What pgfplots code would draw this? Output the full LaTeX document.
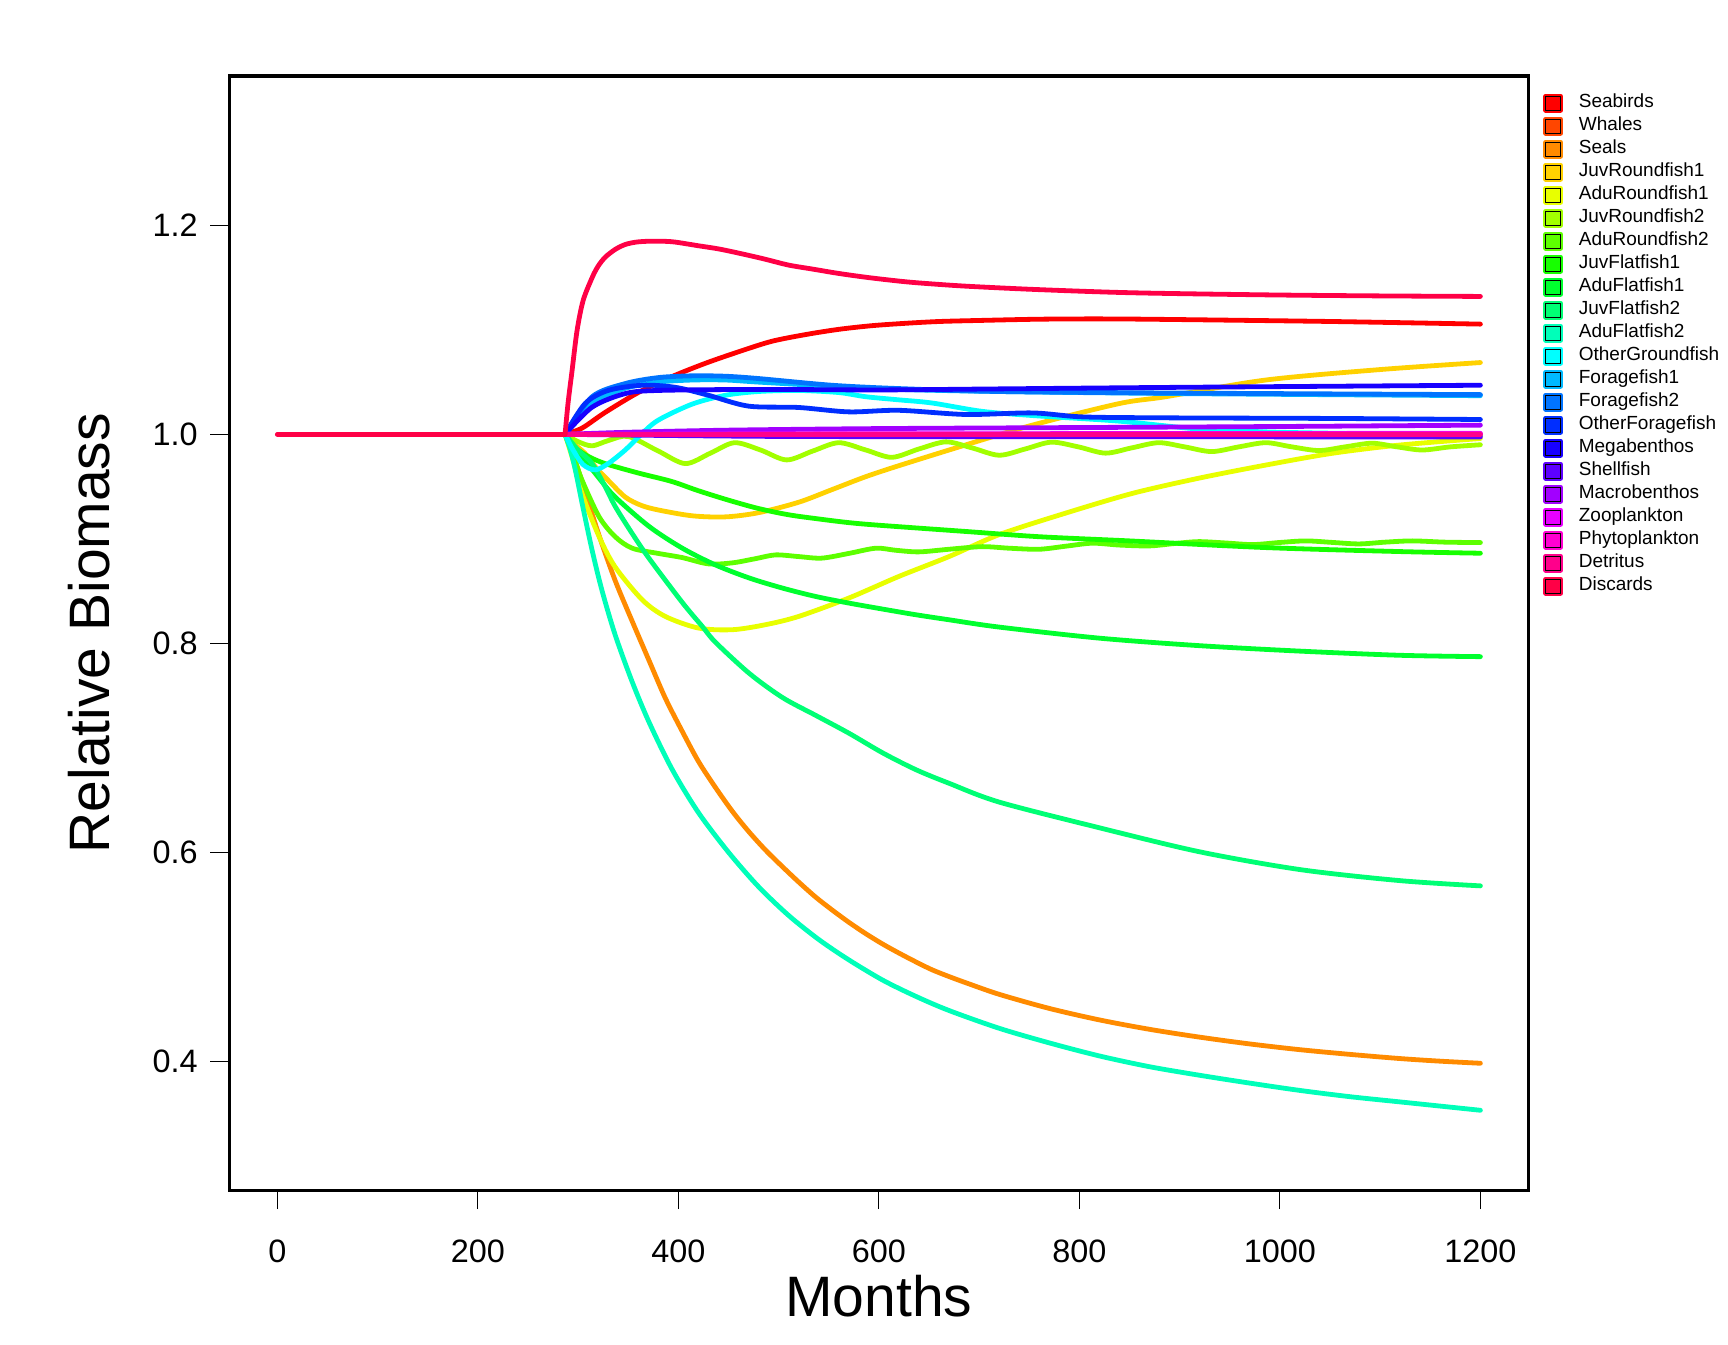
\documentclass[border=0pt]{standalone}
\usepackage{fontspec}
\setmainfont{Liberation Sans}
\usepackage{pgfplots}
\pgfplotsset{compat=1.18}
\definecolor{c01}{HTML}{FF0000}
\definecolor{c02}{HTML}{FF4600}
\definecolor{c03}{HTML}{FF8B00}
\definecolor{c04}{HTML}{FFD100}
\definecolor{c05}{HTML}{E8FF00}
\definecolor{c06}{HTML}{A2FF00}
\definecolor{c07}{HTML}{5DFF00}
\definecolor{c08}{HTML}{17FF00}
\definecolor{c09}{HTML}{00FF2E}
\definecolor{c10}{HTML}{00FF74}
\definecolor{c11}{HTML}{00FFB9}
\definecolor{c12}{HTML}{00FFFF}
\definecolor{c13}{HTML}{00B9FF}
\definecolor{c14}{HTML}{0074FF}
\definecolor{c15}{HTML}{002EFF}
\definecolor{c16}{HTML}{1700FF}
\definecolor{c17}{HTML}{5D00FF}
\definecolor{c18}{HTML}{A200FF}
\definecolor{c19}{HTML}{E800FF}
\definecolor{c20}{HTML}{FF00D1}
\definecolor{c21}{HTML}{FF008B}
\definecolor{c22}{HTML}{FF0046}
\begin{document}
\begin{tikzpicture}
\path[use as bounding box] (0,0) rectangle (864pt,672pt);
\begin{axis}[
  scale only axis, width=649.65pt, height=557.1pt,
  at={(114.6pt,76.9pt)}, anchor=south west,
  xmin=-48, xmax=1248, ymin=0.2765, ymax=1.343,
  axis line style={line width=1.6pt},
  xtick={0,200,400,600,800,1000,1200},
  ytick={0.4,0.6,0.8,1.0,1.2},
  xtick pos=left, ytick pos=left,
  tick align=outside, major tick length=9.4pt,
  tick style={line width=0.55pt, black},
  /pgf/number format/assume math mode=true,
  /pgf/number format/1000 sep={},
  tick label style={font=\fontsize{16.2}{19}\selectfont},
  yticklabel style={/pgf/number format/fixed, /pgf/number format/precision=1, /pgf/number format/fixed zerofill},
  xticklabel shift=11.9pt, yticklabel shift=2.9pt,
  xlabel={Months}, ylabel={Relative Biomass},
  xlabel style={at={(axis description cs:0.5,-0.095)}, anchor=center, font=\fontsize{28.5}{34}\selectfont},
  ylabel style={at={(axis description cs:-0.1077,0.5)}, anchor=center, font=\fontsize{28.5}{34}\selectfont},
  every axis plot/.append style={line width=2.4pt, line cap=round, line join=round, smooth, tension=0.5},
  legend image code/.code={\fill[#1] (0pt,-3.5pt) rectangle (7.5pt,3.5pt); \draw[black,line width=0.5pt] (0pt,-3.5pt) rectangle (7.5pt,3.5pt);},
  legend cell align=left,
  legend style={at={(axis description cs:1.0114,0.986)}, anchor=north west, draw=none, fill=none, inner sep=0pt, outer sep=0pt,
    font=\fontsize{9.5}{11}\selectfont, row sep=0pt, column sep=7.85pt,
    nodes={inner sep=0pt, text height=8pt, text depth=3.5pt}},
]
% Seabirds
\addplot[c01] coordinates {(287,1.0) (304,1.006) (327,1.021) (360,1.040) (393,1.055) (427,1.068) (460,1.079) (493,1.089) (527,1.0955) (560,1.1005) (593,1.104) (627,1.1063) (660,1.108) (700,1.109) (760,1.1102) (820,1.1105) (886,1.110) (1052,1.108) (1200,1.1055)};
\addlegendentry{Seabirds}
% Whales
\addplot[c02] coordinates {(287,1.0) (600,0.9995) (900,0.999) (1200,0.999)};
\addlegendentry{Whales}
% Seals
\addplot[c03] coordinates {(287,1.0) (297,0.975) (310,0.936) (321,0.903) (337,0.860) (354,0.821) (371,0.783) (387,0.7475) (404,0.7155) (420,0.687) (437,0.662) (454,0.639) (470,0.620) (487,0.602) (504,0.586) (520,0.5715) (537,0.557) (553,0.545) (570,0.533) (587,0.522) (604,0.512) (620,0.5035) (637,0.495) (653,0.4875) (670,0.481) (687,0.475) (720,0.464) (770,0.4505) (820,0.4395) (870,0.4305) (920,0.4230) (970,0.4165) (1020,0.411) (1070,0.4065) (1120,0.4025) (1160,0.400) (1200,0.398)};
\addlegendentry{Seals}
% JuvRoundfish1
\addplot[c04] coordinates {(287,1.0) (297,0.99) (307,0.9817) (318,0.968) (330,0.956) (347,0.940) (363,0.932) (380,0.9276) (414,0.922) (447,0.921) (480,0.925) (520,0.935) (553,0.947) (587,0.9595) (620,0.970) (687,0.990) (753,1.0088) (840,1.0295) (886,1.036) (986,1.052) (1100,1.062) (1200,1.0687)};
\addlegendentry{JuvRoundfish1}
% AduRoundfish1
\addplot[c05] coordinates {(287,1.0) (295,0.975) (304,0.943) (321,0.902) (337,0.873) (364,0.8416) (387,0.8257) (420,0.8146) (454,0.813) (487,0.8178) (520,0.8257) (570,0.8433) (620,0.864) (670,0.883) (720,0.904) (786,0.9245) (853,0.9435) (919,0.958) (986,0.9706) (1052,0.9818) (1119,0.9897) (1200,0.996)};
\addlegendentry{AduRoundfish1}
% JuvRoundfish2
\addplot[c06] coordinates {(287,1.0) (300,0.993) (314,0.989) (330,0.994) (350,0.998) (380,0.984) (407,0.972) (432,0.982) (456,0.992) (482,0.985) (508,0.9755) (534,0.984) (560,0.992) (587,0.985) (613,0.978) (640,0.986) (667,0.9928) (693,0.987) (720,0.980) (746,0.986) (772,0.9925) (799,0.988) (826,0.982) (852,0.987) (879,0.992) (905,0.988) (932,0.9835) (959,0.988) (986,0.992) (1012,0.988) (1039,0.9845) (1065,0.988) (1092,0.9915) (1117,0.988) (1142,0.985) (1170,0.988) (1200,0.990)};
\addlegendentry{JuvRoundfish2}
% AduRoundfish2
\addplot[c07] coordinates {(287,1.0) (295,0.98) (304,0.956) (321,0.921) (337,0.902) (354,0.891) (380,0.886) (404,0.882) (430,0.876) (454,0.877) (477,0.881) (497,0.8846) (520,0.883) (543,0.8815) (570,0.886) (597,0.891) (617,0.889) (640,0.8875) (670,0.890) (703,0.8925) (730,0.891) (760,0.890) (787,0.893) (813,0.8958) (840,0.894) (870,0.8932) (895,0.8955) (919,0.8973) (946,0.896) (973,0.8945) (1000,0.8965) (1026,0.898) (1053,0.8965) (1079,0.8951) (1105,0.8968) (1132,0.898) (1165,0.8968) (1200,0.8964)};
\addlegendentry{AduRoundfish2}
% JuvFlatfish1
\addplot[c08] coordinates {(287,1.0) (296,0.988) (310,0.979) (327,0.972) (360,0.963) (393,0.955) (420,0.946) (450,0.937) (480,0.929) (510,0.923) (540,0.919) (570,0.9155) (600,0.913) (687,0.907) (760,0.902) (850,0.898) (986,0.8916) (1119,0.8878) (1200,0.8862)};
\addlegendentry{JuvFlatfish1}
% AduFlatfish1
\addplot[c09] coordinates {(287,1.0) (296,0.988) (304,0.9785) (321,0.958) (337,0.940) (371,0.9117) (404,0.891) (437,0.875) (471,0.8624) (504,0.8528) (537,0.8448) (570,0.8385) (604,0.8327) (637,0.8273) (670,0.8225) (720,0.8155) (820,0.8049) (920,0.7977) (1020,0.7925) (1120,0.7885) (1200,0.7872)};
\addlegendentry{AduFlatfish1}
% JuvFlatfish2
\addplot[c10] coordinates {(287,1.0) (300,0.985) (314,0.972) (327,0.950) (337,0.931) (354,0.905) (371,0.881) (404,0.839) (424,0.816) (437,0.801) (471,0.771) (504,0.748) (537,0.731) (570,0.714) (604,0.695) (637,0.679) (670,0.666) (720,0.648) (820,0.6234) (920,0.6004) (1020,0.5834) (1120,0.5728) (1200,0.5678)};
\addlegendentry{JuvFlatfish2}
% AduFlatfish2
\addplot[c11] coordinates {(287,1.0) (292,0.986) (297,0.967) (304,0.934) (314,0.889) (324,0.850) (337,0.808) (354,0.763) (371,0.724) (394,0.679) (420,0.638) (450,0.600) (480,0.567) (510,0.5395) (540,0.5165) (570,0.497) (604,0.4775) (637,0.462) (670,0.4485) (720,0.4315) (770,0.4175) (820,0.405) (870,0.3947) (920,0.3865) (970,0.379) (1020,0.372) (1070,0.366) (1120,0.361) (1160,0.357) (1200,0.353)};
\addlegendentry{AduFlatfish2}
% OtherGroundfish
\addplot[c12] coordinates {(287,1.0) (295,0.985) (305,0.971) (317,0.966) (330,0.972) (347,0.985) (363,1.0) (380,1.0136) (414,1.029) (447,1.0374) (480,1.041) (520,1.042) (560,1.040) (587,1.036) (620,1.033) (653,1.030) (703,1.022) (753,1.018) (840,1.0126) (920,1.005) (1000,1.002) (1100,1.0005) (1200,1.0)};
\addlegendentry{OtherGroundfish}
% Foragefish1
\addplot[c13] coordinates {(287,1.0) (314,1.03) (347,1.044) (380,1.050) (414,1.052) (447,1.052) (480,1.050) (553,1.046) (620,1.043) (720,1.041) (900,1.039) (1200,1.037)};
\addlegendentry{Foragefish1}
% Foragefish2
\addplot[c14] coordinates {(287,1.0) (314,1.036) (347,1.0486) (380,1.0543) (414,1.056) (447,1.0556) (480,1.0534) (553,1.047) (620,1.0438) (720,1.041) (900,1.0395) (1200,1.038)};
\addlegendentry{Foragefish2}
% OtherForagefish
\addplot[c15] coordinates {(287,1.0) (307,1.0295) (330,1.042) (364,1.047) (397,1.045) (430,1.0374) (470,1.027) (520,1.0257) (570,1.0215) (620,1.023) (687,1.019) (753,1.0205) (803,1.0167) (886,1.0158) (1052,1.0152) (1200,1.0142)};
\addlegendentry{OtherForagefish}
% Megabenthos
\addplot[c16] coordinates {(287,1.0) (314,1.026) (347,1.039) (380,1.042) (480,1.043) (600,1.0425) (720,1.0435) (900,1.045) (1200,1.047)};
\addlegendentry{Megabenthos}
% Shellfish
\addplot[c17] coordinates {(287,1.0) (500,0.998) (800,0.9977) (1200,0.9975)};
\addlegendentry{Shellfish}
% Macrobenthos
\addplot[c18] coordinates {(287,1.0) (350,1.002) (450,1.004) (600,1.0055) (800,1.0065) (1000,1.0075) (1200,1.0088)};
\addlegendentry{Macrobenthos}
% Zooplankton
\addplot[c19] coordinates {(287,1.0) (600,1.0005) (1200,1.001)};
\addlegendentry{Zooplankton}
% Phytoplankton
\addplot[c20] coordinates {(287,1.0) (600,1.0003) (1200,1.0005)};
\addlegendentry{Phytoplankton}
% Detritus
\addplot[c21] coordinates {(287,1.0) (600,1.0) (1200,1.0)};
\addlegendentry{Detritus}
% Discards
\addplot[c22] coordinates {(287,1.0) (290,1.03) (294,1.061) (299,1.0995) (305,1.128) (314,1.150) (320,1.161) (327,1.1695) (337,1.177) (347,1.1817) (358,1.184) (370,1.1848) (385,1.1848) (397,1.184) (420,1.1805) (440,1.1775) (460,1.1735) (485,1.168) (510,1.162) (535,1.158) (560,1.154) (590,1.150) (627,1.146) (660,1.1435) (693,1.1415) (760,1.1385) (853,1.1355) (986,1.1335) (1100,1.1325) (1200,1.132)};
\addlegendentry{Discards}
\addplot[c22, forget plot] coordinates {(0,1.0) (287,1.0)};
\end{axis}
\end{tikzpicture}
\end{document}
